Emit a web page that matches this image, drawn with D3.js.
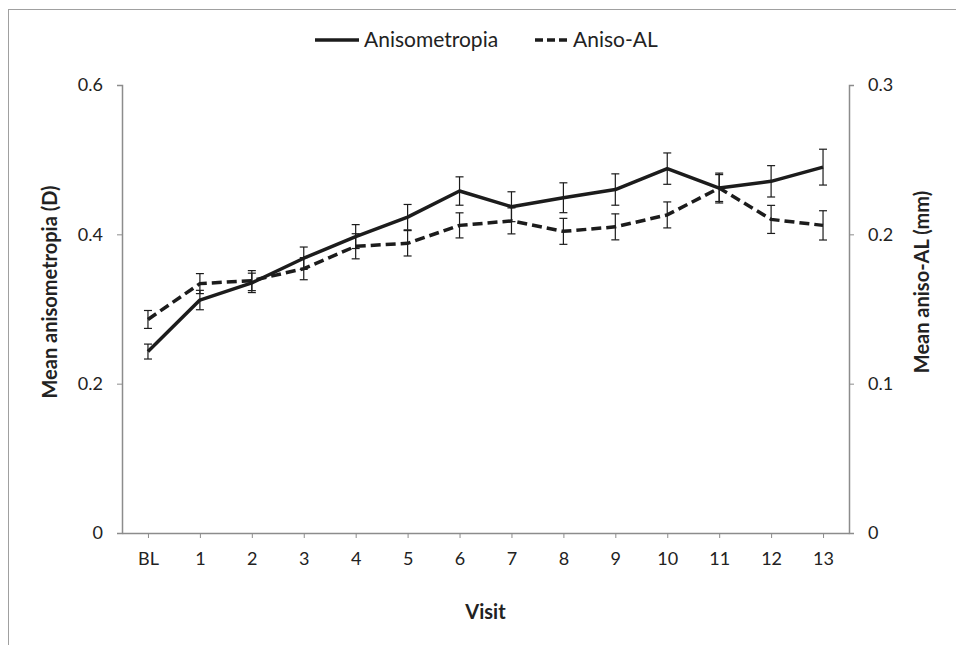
<!DOCTYPE html>
<html>
<head>
<meta charset="utf-8">
<script src="https://cdn.jsdelivr.net/npm/d3@7"></script>
<style>
  html, body { margin: 0; padding: 0; background: #fff; }
  svg { display: block; }
  text { font-family: Lato, "Open Sans", sans-serif; fill: #222; }
</style>
</head>
<body>
<svg id="chart" width="956" height="645"></svg>
<script>
// ---- data ----
const categories = ["BL","1","2","3","4","5","6","7","8","9","10","11","12","13"];
const anisometropia    = [0.243, 0.312, 0.335, 0.368, 0.397, 0.423, 0.458, 0.437, 0.449, 0.460, 0.488, 0.462, 0.471, 0.490];
const anisometropiaErr = [0.010, 0.013, 0.013, 0.015, 0.016, 0.017, 0.019, 0.020, 0.020, 0.021, 0.021, 0.020, 0.021, 0.024];
const anisoAL          = [0.143, 0.167, 0.169, 0.177, 0.192, 0.194, 0.206, 0.209, 0.202, 0.205, 0.213, 0.231, 0.210, 0.206];
const anisoALErr       = [0.0060, 0.0067, 0.0067, 0.0074, 0.0084, 0.0085, 0.0084, 0.0087, 0.0087, 0.0087, 0.0087, 0.0090, 0.0094, 0.0098];
const leftTicks  = [0, 0.2, 0.4, 0.6];
const rightTicks = [0, 0.1, 0.2, 0.3];
const seriesNames = ["Anisometropia", "Aniso-AL"];
const leftTitle = "Mean anisometropia (D)";
const rightTitle = "Mean aniso-AL (mm)";
const xTitle = "Visit";

// ---- layout ----
const svg = d3.select("#chart");
const plot = { left: 122, right: 849, top: 85, bottom: 533 };
const axisColor = "#8c8c8c";
const ink = "#1c1c1c";

// outer frame
svg.append("rect")
  .attr("x", 8.5).attr("y", 9.5)
  .attr("width", 1000).attr("height", 700)
  .attr("fill", "none").attr("stroke", "#a0a0a0").attr("stroke-width", 1);

const x = d3.scalePoint().domain(categories).range([plot.left, plot.right]).padding(0.5);
const yL = d3.scaleLinear().domain([0, 0.6]).range([plot.bottom, plot.top]);
const yR = d3.scaleLinear().domain([0, 0.3]).range([plot.bottom, plot.top]);
const fmt = d => d === 0 ? "0" : d3.format(".1f")(d);

function styleAxis(g) {
  g.select(".domain").attr("stroke", axisColor).attr("stroke-width", 1.5);
  g.selectAll(".tick line").attr("stroke", axisColor).attr("stroke-width", 1);
  g.selectAll(".tick text").attr("font-size", 18).attr("fill", "#2a2a2a")
    .style("font-family", "Lato, 'Open Sans', sans-serif");
}

// left axis
svg.append("g").attr("transform", `translate(${plot.left},0)`)
  .call(d3.axisLeft(yL).tickValues(leftTicks).tickFormat(fmt).tickSize(5).tickSizeOuter(5).tickPadding(14))
  .call(styleAxis);

// right axis
svg.append("g").attr("transform", `translate(${plot.right},0)`)
  .call(d3.axisRight(yR).tickValues(rightTicks).tickFormat(fmt).tickSize(5).tickSizeOuter(5).tickPadding(14))
  .call(styleAxis);

// x axis
svg.append("g").attr("transform", `translate(0,${plot.bottom})`)
  .call(d3.axisBottom(x).tickSize(5).tickSizeOuter(0).tickPadding(14))
  .call(styleAxis);

// axis titles
svg.append("text")
  .attr("transform", `translate(57,${(plot.top + plot.bottom) / 2 - 17}) rotate(-90)`)
  .attr("text-anchor", "middle").attr("font-size", 20).attr("font-weight", "bold")
  .text(leftTitle);
svg.append("text")
  .attr("transform", `translate(929,${(plot.top + plot.bottom) / 2 - 27}) rotate(-90)`)
  .attr("text-anchor", "middle").attr("font-size", 20).attr("font-weight", "bold")
  .text(rightTitle);
svg.append("text")
  .attr("x", (plot.left + plot.right) / 2).attr("y", 619)
  .attr("text-anchor", "middle").attr("font-size", 20).attr("font-weight", "bold")
  .text(xTitle);

// ---- series ----
const solidData = categories.map((c, i) => ({ c, v: anisometropia[i], e: anisometropiaErr[i] }));
const dashData  = categories.map((c, i) => ({ c, v: anisoAL[i], e: anisoALErr[i] }));

function errorBars(data, y, cls) {
  const g = svg.append("g").attr("class", cls)
    .attr("stroke", ink).attr("stroke-width", 1.2).attr("fill", "none");
  const cap = 4;
  data.forEach(d => {
    const cx = x(d.c), y1 = y(d.v + d.e), y2 = y(d.v - d.e);
    g.append("line").attr("x1", cx).attr("x2", cx).attr("y1", y1).attr("y2", y2);
    g.append("line").attr("x1", cx - cap).attr("x2", cx + cap).attr("y1", y1).attr("y2", y1);
    g.append("line").attr("x1", cx - cap).attr("x2", cx + cap).attr("y1", y2).attr("y2", y2);
  });
}

errorBars(solidData, yL, "err-solid");
errorBars(dashData, yR, "err-dash");

svg.append("path").datum(solidData)
  .attr("fill", "none").attr("stroke", ink).attr("stroke-width", 3.5)
  .attr("stroke-linejoin", "round")
  .attr("d", d3.line().x(d => x(d.c)).y(d => yL(d.v)));

svg.append("path").datum(dashData)
  .attr("fill", "none").attr("stroke", ink).attr("stroke-width", 3.5)
  .attr("stroke-dasharray", "10,5")
  .attr("d", d3.line().x(d => x(d.c)).y(d => yR(d.v)));

// ---- legend ----
const lg = svg.append("g");
const ly = 40;
lg.append("line").attr("x1", 315).attr("x2", 359).attr("y1", ly).attr("y2", ly)
  .attr("stroke", ink).attr("stroke-width", 3.5);
lg.append("text").attr("x", 364).attr("y", ly + 7).attr("font-size", 21).text(seriesNames[0]);
lg.append("line").attr("x1", 535).attr("x2", 568).attr("y1", ly).attr("y2", ly)
  .attr("stroke", ink).attr("stroke-width", 3.5).attr("stroke-dasharray", "8,4");
lg.append("text").attr("x", 573).attr("y", ly + 7).attr("font-size", 21).text(seriesNames[1]);
</script>
</body>
</html>
